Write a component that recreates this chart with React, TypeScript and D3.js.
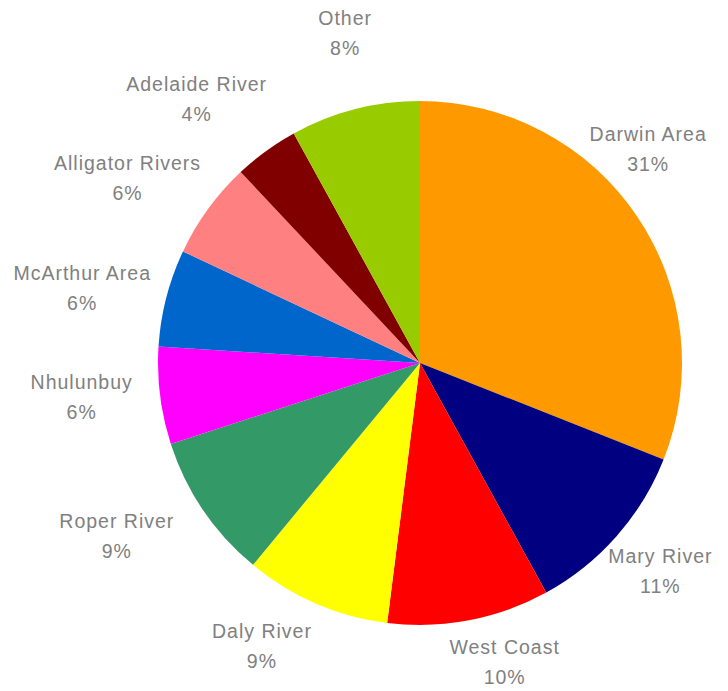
import React from "react";
import * as d3 from "d3";

const categories = [
  "Darwin Area",
  "Mary River",
  "West Coast",
  "Daly River",
  "Roper River",
  "Nhulunbuy",
  "McArthur Area",
  "Alligator Rivers",
  "Adelaide River",
  "Other",
];
const values = [31, 11, 10, 9, 9, 6, 6, 6, 4, 8];
const colors = [
  "#FF9900",
  "#000080",
  "#FF0000",
  "#FFFF00",
  "#339966",
  "#FF00FF",
  "#0066CC",
  "#FF8080",
  "#800000",
  "#99CC00",
];

// label layout: angle nudge (degrees) from slice mid-angle, and distance from centre
const labelAngleNudge = [-9, -0.5, -5, 5.8, 4.5, 1.5, -1.9, -3.7, -4.2, 1.6];
const labelDistance = [313, 318, 311, 324, 349, 340, 346, 346, 346, 338];

const W = 728;
const H = 691;
const CX = 420;
const CY = 363;
const R = 262;

export default function App() {
  const data = categories.map((c, i) => ({ name: c, value: values[i], color: colors[i] }));
  const total = d3.sum(values);
  const pie = d3
    .pie<any>()
    .value((d) => d.value)
    .sort(null)
    .startAngle(0)
    .endAngle(2 * Math.PI);
  const arcs = pie(data);
  const arc = d3.arc<any>().innerRadius(0).outerRadius(R);
  const fmt = d3.format(".0%");

  return (
    <svg
      width={W}
      height={H}
      style={{ position: "absolute", left: 0, top: 0, background: "#fff" }}
      fontFamily="'Liberation Sans', Arial, sans-serif"
    >
      <g transform={`translate(${CX},${CY})`}>
        {arcs.map((a, i) => (
          <path key={i} d={arc(a) as string} fill={a.data.color} />
        ))}
        {arcs.map((a, i) => {
          const mid = (a.startAngle + a.endAngle) / 2 + (labelAngleNudge[i] * Math.PI) / 180;
          const dist = labelDistance[i];
          const x = dist * Math.sin(mid);
          const y = -dist * Math.cos(mid);
          return (
            <g key={"l" + i} fill="#808080" fontSize={19.5} letterSpacing={1} textAnchor="middle">
              <text x={x} y={y - 15} dominantBaseline="central">
                {a.data.name}
              </text>
              <text x={x} y={y + 15} dominantBaseline="central">
                {fmt(a.data.value / total)}
              </text>
            </g>
          );
        })}
      </g>
    </svg>
  );
}
